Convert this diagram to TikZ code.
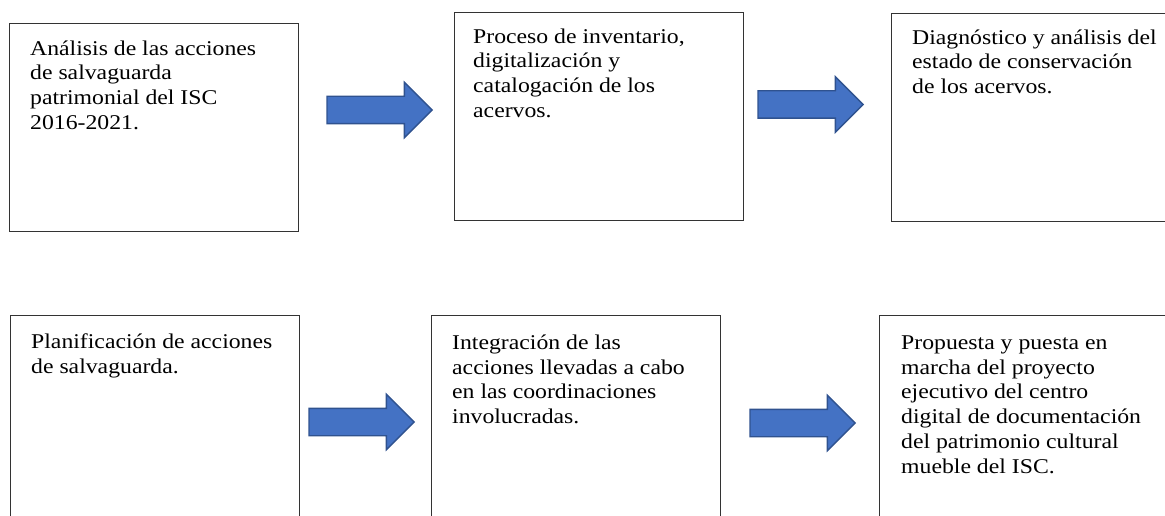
\documentclass[tikz,border=0pt]{standalone}
\usepackage{fontspec}
\setmainfont{Liberation Serif}[FakeStretch=1.13]
\usepackage{tikz}
\usetikzlibrary{shapes.arrows}
\definecolor{azulflecha}{HTML}{4472C4}
\definecolor{bordeflecha}{HTML}{2F528F}
\newcommand{\altolinea}{\rule{0pt}{20pt}}

\begin{document}
\begin{tikzpicture}[x=1pt,y=-1pt,
    caja/.style={draw=black!80, line width=0.9pt, minimum width=289pt, minimum height=208pt, inner sep=0pt, anchor=north west},
    texto/.style={anchor=north west, align=left, inner sep=0pt, font=\fontsize{21}{24.8}\selectfont},
    flecha/.style={single arrow, fill=azulflecha, draw=bordeflecha, line width=1.4pt, inner sep=13pt, single arrow head extend=14pt, minimum height=105pt, anchor=tip}]
      \useasboundingbox (0,0) rectangle (1165,516);
      \clip (0,0) rectangle (1165,516);
      % primera fila
      \node [caja] (analisis) at (9,23) {};
      \node [caja] (inventario) at (454,12) {};
      \node [caja] (diagnostico) at (891,13) {};
      \node [texto] (T1) at ([shift={(21,12)}]analisis.north west) {\altolinea Análisis de las acciones\\de salvaguarda\\patrimonial del ISC\\2016-2021.};
      \node [texto] (T2) at ([shift={(19,11)}]inventario.north west) {\altolinea Proceso de inventario,\\digitalización y\\catalogación de los\\acervos.};
      \node [texto] (T3) at ([shift={(21,11)}]diagnostico.north west) {\altolinea Diagnóstico y análisis del\\estado de conservación\\de los acervos.};
      \node [flecha] (F1) at (433,110) {};
      \node [flecha] (F2) at (864,104.5) {};
      % segunda fila
      \node [caja] (planificacion) at (10,315) {};
      \node [caja] (integracion) at (431,315) {};
      \node [caja] (propuesta) at (879,315) {};
      \node [texto] (T4) at ([shift={(21,13)}]planificacion.north west) {\altolinea Planificación de acciones\\de salvaguarda.};
      \node [texto] (T5) at ([shift={(21,14)}]integracion.north west) {\altolinea Integración de las\\acciones llevadas a cabo\\en las coordinaciones\\involucradas.};
      \node [texto] (T6) at ([shift={(22,14)}]propuesta.north west) {\altolinea Propuesta y puesta en\\marcha del proyecto\\ejecutivo del centro\\digital de documentación\\del patrimonio cultural\\mueble del ISC.};
      \node [flecha] (F3) at (415,422) {};
      \node [flecha] (F4) at (856,423) {};
    \end{tikzpicture}
\end{document}
